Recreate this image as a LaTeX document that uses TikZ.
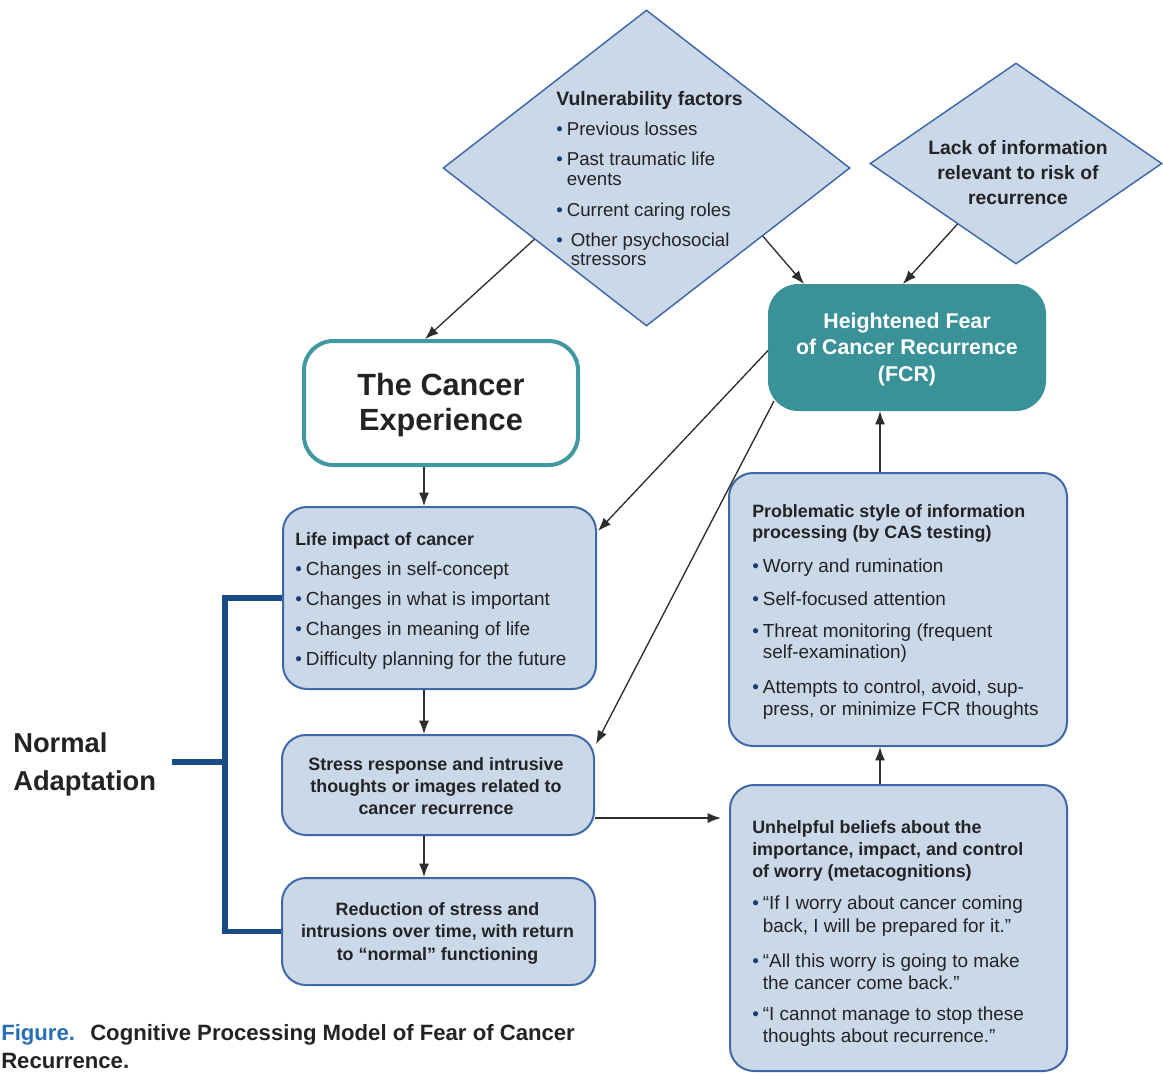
\documentclass[tikz,border=0pt]{standalone}
\usepackage{fontspec}
\setmainfont{Liberation Sans}
\usetikzlibrary{arrows.meta,calc,fit,shapes.geometric}
\definecolor{boxfill}{RGB}{203,216,232}
\definecolor{boxborder}{RGB}{62,104,168}
\definecolor{fcrc}{RGB}{58,145,152}
\definecolor{cec}{RGB}{64,152,160}
\definecolor{brk}{RGB}{24,76,135}
\definecolor{bulc}{RGB}{24,60,120}
\definecolor{txtc}{RGB}{35,35,38}
\definecolor{arrc}{RGB}{45,45,45}
\definecolor{figblue}{RGB}{40,110,180}
\newcommand\bu{{\color{bulc}\textbullet}\hspace{3pt}}
\newcommand\hg{\hphantom{\textbullet\hspace{3pt}}}
\newcommand\fs[2]{\fontsize{#1}{#2}\selectfont}
\begin{document}
\begin{tikzpicture}[x=0.75pt,y=-0.75pt,
  box/.style={draw=boxborder,fill=boxfill,line width=1.5pt,rounded corners=18pt,inner sep=0pt},
  dia/.style={diamond,draw=boxborder,fill=boxfill,line width=1.1pt,inner sep=0pt},
  arr/.style={draw=arrc,line width=1pt,-{Latex[length=10pt,width=7.5pt]}},
  bracket/.style={draw=brk,line width=4pt},
  txt/.style={text=txtc,inner sep=0pt}]
\path[use as bounding box] (0,0) rectangle (1163,1075);
\clip (0,0) rectangle (1163,1075);
\fill[white] (0,0) rectangle (1163,1075);

% diamonds
\node[dia, minimum width=305.25pt, minimum height=237pt] (vul) at (646.5,168) {};
\node[dia, minimum width=219pt, minimum height=150.75pt] (lack) at (1016,163.5) {};

% boxes
\node[box, fill=fcrc, draw=fcrc, rounded corners=22pt, fit={(769,285) (1045,410)}] (fcr) {};
\node[box, fill=white, draw=cec, line width=3pt, rounded corners=22pt, fit={(304,341) (578,465)}] (ce) {};
\node[box, fit={(283,507) (596,689)}] (life) {};
\node[box, fit={(282,735) (594,835)}] (stress) {};
\node[box, fit={(282,878) (595,985)}] (red) {};
\node[box, fit={(729,473) (1067,746)}] (prob) {};
\node[box, fit={(730,785) (1067,1071)}] (unh) {};

% texts
\node[txt, anchor=base west] (vulT) at (556,105) {\fs{14}{15.5}\begin{tabular}[t]{@{}l@{}}
{\fs{14.6}{15.5}\bfseries Vulnerability factors}\\[7pt]
\bu Previous losses\\[7pt]
\bu Past traumatic life\\
\hg events\\[7.75pt]
\bu Current caring roles\\[7pt]
\bu\hspace{3pt}Other psychosocial\\[-1.25pt]
\hg\hspace{3pt}stressors
\end{tabular}};

\node[txt, anchor=base] (lackT) at (1018,154) {\fs{14.5}{18.75}\bfseries\begin{tabular}[t]{@{}c@{}}Lack of information\\relevant to risk of\\recurrence\end{tabular}};

\node[txt, anchor=base, text=white] (fcrT) at (907,328) {\fs{16}{20}\bfseries\begin{tabular}[t]{@{}c@{}}Heightened Fear\\of Cancer Recurrence\\(FCR)\end{tabular}};

\node[txt, anchor=base] (ceT) at (441,395) {\fs{23}{26.25}\bfseries\begin{tabular}[t]{@{}c@{}}The Cancer\\Experience\end{tabular}};

\node[txt, anchor=base west] (lifeT) at (295,545) {\fs{14.2}{16.5}\begin{tabular}[t]{@{}l@{}}
{\fs{13.4}{16.5}\bfseries Life impact of cancer}\\[6pt]
\bu Changes in self-concept\\[6pt]
\bu Changes in what is important\\[6pt]
\bu Changes in meaning of life\\[6pt]
\bu Difficulty planning for the future
\end{tabular}};

\node[txt, anchor=base] (stressT) at (436,770) {\fs{13.4}{16.5}\bfseries\begin{tabular}[t]{@{}c@{}}Stress response and intrusive\\thoughts or images related to\\cancer recurrence\end{tabular}};

\node[txt, anchor=base] (redT) at (437.5,915) {\fs{13.4}{16.9}\bfseries\begin{tabular}[t]{@{}c@{}}Reduction of stress and\\intrusions over time, with return\\to “normal” functioning\end{tabular}};

\node[txt, anchor=base west] (probT) at (752,517) {\fs{14.2}{16}\begin{tabular}[t]{@{}l@{}}
{\fs{13.4}{16}\bfseries Problematic style of information}\\
{\fs{13.4}{16}\bfseries processing (by CAS testing)}\\[9.5pt]
\bu Worry and rumination\\[8.75pt]
\bu Self-focused attention\\[8pt]
\bu Threat monitoring (frequent\\
\hg self-examination)\\[10.25pt]
\bu Attempts to control, avoid, sup-\\
\hg press, or minimize FCR thoughts
\end{tabular}};

\node[txt, anchor=base west] (unhT) at (752,833) {\fs{14.2}{16.75}\begin{tabular}[t]{@{}l@{}}
{\fs{13.4}{16.75}\bfseries Unhelpful beliefs about the}\\
{\fs{13.4}{16.75}\bfseries importance, impact, and control}\\
{\fs{13.4}{16.75}\bfseries of worry (metacognitions)}\\[7.25pt]
\bu “If I worry about cancer coming\\
\hg back, I will be prepared for it.”\\[9.5pt]
\bu “All this worry is going to make\\
\hg the cancer come back.”\\[6.5pt]
\bu “I cannot manage to stop these\\
\hg thoughts about recurrence.”
\end{tabular}};

\node[txt, anchor=base west] (naT) at (13,752) {\fs{20.5}{28.5}\bfseries\begin{tabular}[t]{@{}l@{}}Normal\\Adaptation\end{tabular}};

\node[txt, anchor=base west, text=figblue] (capF) at (1,1040) {\fs{16.6}{20}\bfseries Figure.};
\node[txt, anchor=base west] (capT) at (90,1040) {\fs{16.6}{20}\bfseries Cognitive Processing Model of Fear of Cancer};
\node[txt, anchor=base west] (capR) at (1,1068) {\fs{16.6}{20}\bfseries Recurrence.};

% bracket
\coordinate (bj) at (225,762);
\coordinate (bs) at (172,762);
\draw[bracket] (life.west) -| (bj) |- (red.west);
\draw[bracket] (bs) -- (bj);

% arrows
\coordinate (xl) at (424,0);
\coordinate (xr) at (880,0);
\draw[arr] ($(vul.west)!0.45!(vul.south)$) -- ($(ce.north)+(-16,0)$);
\draw[arr] ($(vul.east)!0.43!(vul.south)$) -- ($(fcr.north west)+(36,0)$);
\draw[arr] ($(lack.west)!0.6!(lack.south)$) -- ($(fcr.north)+(-4,0)$);
\draw[arr] (ce.south -| xl) -- (life.north -| xl);
\draw[arr] (life.south -| xl) -- (stress.north -| xl);
\draw[arr] (stress.south -| xl) -- (red.north -| xl);
\draw[arr] ($(fcr.west)+(0,3)$) -- ($(life.north east)+(1,25)$);
\draw[arr] ($(fcr.south west)+(6,-10)$) -- ($(stress.north east)+(1,10)$);
\coordinate (sy) at ($(stress.east)+(0,33)$);
\draw[arr, shorten >=6pt] (sy) -- (sy -| unh.west);
\draw[arr] (unh.north -| xr) -- (prob.south -| xr);
\draw[arr] (prob.north -| xr) -- (fcr.south -| xr);
\end{tikzpicture}
\end{document}
